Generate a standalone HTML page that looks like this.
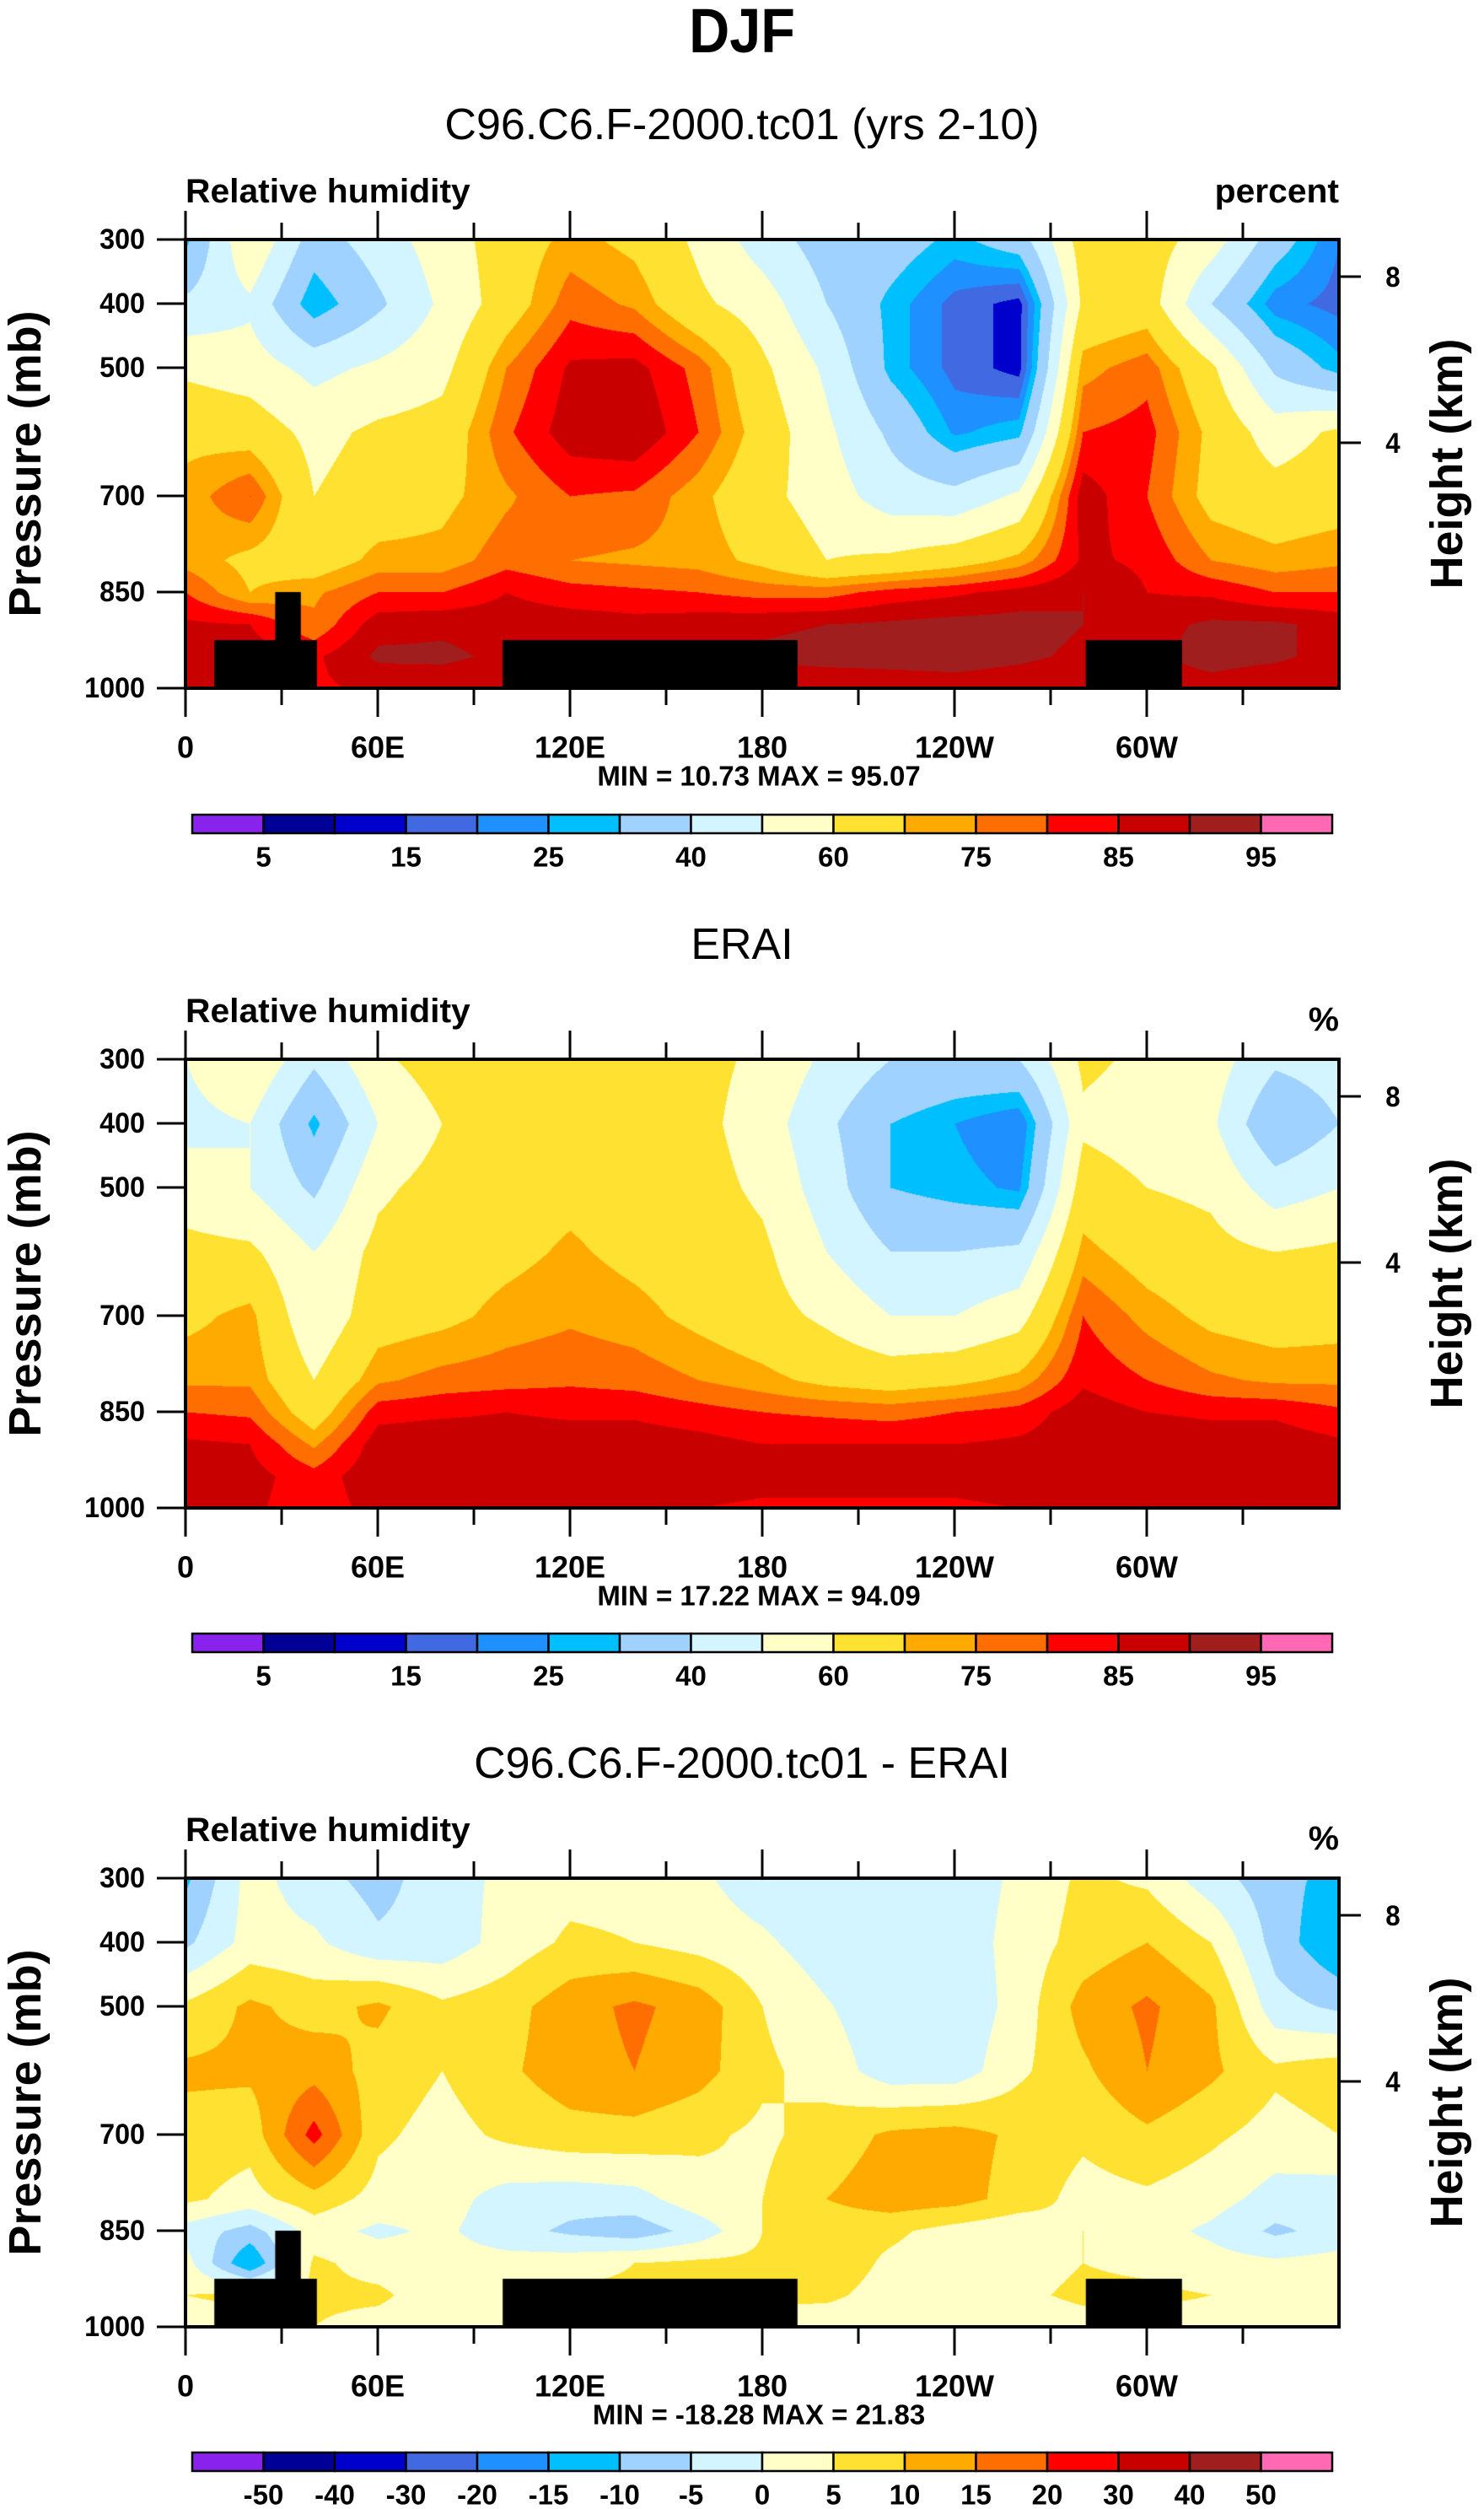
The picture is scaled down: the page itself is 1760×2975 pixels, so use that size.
<!DOCTYPE html>
<html><head><meta charset="utf-8">
<style>
html,body{margin:0;padding:0;background:#fff;}
#root{position:relative;width:1760px;height:2975px;overflow:hidden;background:#fff;}
canvas{position:absolute;}
svg{position:absolute;left:0;top:0;}
text{font-family:"Liberation Sans",sans-serif;fill:#000;}
</style></head>
<body>
<div id="root">
<canvas id="c0"></canvas>
<canvas id="c1"></canvas>
<canvas id="c2"></canvas>
<svg id="svg" width="1760" height="2975"></svg>
</div>
<script>
// ---------- data ----------
const lons = [0,20,40,60,80,100,120,140,160,180,200,220,240,260,280,300,320,340,360];
const levels = [300,400,500,600,700,800,850,900,950,1000];
const pTicks = [300,400,500,700,850,1000];
const lonTickLabels = ["0","60E","120E","180","120W","60W"];
const lonTickValues = [0,60,120,180,240,300];
const hTicks = [8,4];
const rhBounds = [5,10,15,20,25,30,40,50,60,70,75,80,85,90,95];
const rhLabels = ["5","15","25","40","60","75","85","95"];
const diffBounds = [-50,-40,-30,-20,-15,-10,-5,0,5,10,15,20,30,40,50];
const diffLabels = ["-50","-40","-30","-20","-15","-10","-5","0","5","10","15","20","30","40","50"];
const colors16 = ["#8a22ee","#000096","#0000cd","#4169e1","#1e90ff","#00bfff","#a0d2ff","#d2f5ff","#ffffc8","#ffe132","#ffaa00","#ff6e00","#ff0000","#c80000","#a01e1e","#ff69b4"];

const modelRH = [
[28,60,35,45,55,65,72,68,58,45,35,35,28,35,65,65,55,35,20],
[42,48,25,38,52,65,78,74,62,55,40,28,18,13,62,65,40,22,18],
[58,55,47,52,57,75,86,87,78,62,48,28,18,13,73,78,62,38,27],
[68,66,57,62,64,79,88,90,80,66,52,38,24,28,80,82,68,55,62],
[72,80,60,65,68,74,80,79,72,63,55,45,43,52,88,80,67,64,66],
[73,68,65,72,72,78,75,74,73,68,60,62,66,72,86,84,75,72,74],
[80,70,74,80,80,85,82,81,80,78,78,82,84,87,90,85,84,80,80],
[86,85,76,88,89,88,88,87,88,89,90,91,92,92,90,88,91,91,88],
[87,88,84,91,91,89,90,90,90,91,92,92,92,91,89,89,92,91,88],
[85,87,84,86,87,86,87,87,87,86,86,87,88,87,86,87,88,86,85]];
const eraiRH = [
[50,60,42,58,65,66,68,65,63,58,48,40,38,40,62,58,55,42,45],
[47,50,28,50,60,65,67,66,63,55,42,30,25,20,58,55,52,30,40],
[55,50,38,58,64,67,68,66,64,58,45,30,27,24,65,60,58,45,50],
[63,62,50,63,66,68,71,68,66,62,50,40,40,42,72,66,63,60,62],
[68,72,52,66,68,72,74,72,68,64,58,50,50,56,80,73,68,66,67],
[74,74,60,74,77,78,79,78,75,72,68,66,68,72,84,80,76,74,74],
[80,79,65,83,84,85,84,84,82,80,79,78,80,82,88,85,84,84,81],
[86,85,74,88,89,88,88,88,87,85,85,85,85,86,88,89,88,88,86],
[87,87,82,89,89,89,89,88,88,87,87,87,87,88,89,89,89,89,87],
[85,86,82,87,87,86,86,85,85,84,84,84,84,85,86,87,87,87,85]];
const diffRH = [
[-11,2,-3,-7,-2,1,3,3,1,-3,-4,-3,-3,1,6,4,-3,-8,-12],
[-6,2,1,-4,-3,2,6,5,3,1,-3,-2,-3,2,7,10,5,-7,-15],
[6,11,8,11,6,8,13,16,13,5,0.5,-4,-4,2,12,16,11,-3,-6],
[11,11,13,8,5,9,13,15,12,6,3,-3,-3,4,9,15,11,6,8],
[8,7,22,6,3,6,8,8,6,4,7,11,12,9,6,9,6,3,5],
[6,3,8,3,2,-2,-3,-2,3,5,10,13,12,8,3,4,2,-2,-3],
[-2,-7,2,-1,1,-3,-6,-8,-3,5,7,6,3,1,5,2,-1,-6,-3],
[2,-15,6,3,2,2,3,5,6,6,8,4,2,3,5,4,2,1,2],
[5,6,6,6,2,5,6,6,5,6,6,3,3,4,6,6,5,3,5],
[3,3,5,3,2,3,3,3,3,3,2,2,2,2,3,3,3,3,3]];
// topography mask (lon range, top pressure)
const landLon0 = [9,28,99,281];
const landLon1 = [41,36,191,311];
const landTop  = [925,850,925,925];

// ---------- layout ----------
const PX0=220, PX1=1588, PW=PX1-PX0, PH=532;
const panels=[
 {top:284, data:modelRH, bounds:rhBounds, labels:rhLabels, labelIdx:[0,2,4,6,8,10,12,14], title:"C96.C6.F-2000.tc01 (yrs 2-10)", unit:"percent", min:"10.73", max:"95.07", mask:true, cbTop:966},
 {top:1256, data:eraiRH, bounds:rhBounds, labels:rhLabels, labelIdx:[0,2,4,6,8,10,12,14], title:"ERAI", unit:"%", min:"17.22", max:"94.09", mask:false, cbTop:1937},
 {top:2227, data:diffRH, bounds:diffBounds, labels:diffLabels, labelIdx:[0,1,2,3,4,5,6,7,8,9,10,11,12,13,14], title:"C96.C6.F-2000.tc01 - ERAI", unit:"%", min:"-18.28", max:"21.83", mask:true, cbTop:2908}
];
function xOf(lon){return PX0+lon/360*PW;}
function yOf(p,top){return top+(p-300)/700*PH;}

function sample(data,lon,p){
  let i=Math.min(Math.floor(lon/20),lons.length-2); let fx=(lon-lons[i])/20;
  let j=0; while(j<levels.length-2 && p>levels[j+1]) j++;
  let fy=(p-levels[j])/(levels[j+1]-levels[j]);
  const a=data[j][i],b=data[j][i+1],c=data[j+1][i],d=data[j+1][i+1];
  return (a*(1-fx)+b*fx)*(1-fy)+(c*(1-fx)+d*fx)*fy;
}
function hex(h){return [parseInt(h.substr(1,2),16),parseInt(h.substr(3,2),16),parseInt(h.substr(5,2),16)];}
const rgb=colors16.map(hex);

panels.forEach((P,k)=>{
  const cv=document.getElementById('c'+k);
  cv.width=PW; cv.height=PH; cv.style.left=PX0+'px'; cv.style.top=P.top+'px';
  const ctx=cv.getContext('2d'); const im=ctx.createImageData(PW,PH);
  for(let y=0;y<PH;y++){const p=300+y/PH*700;
    for(let x=0;x<PW;x++){const lon=x/PW*360;
      const v=sample(P.data,lon,p); let ci=0; while(ci<P.bounds.length && v>=P.bounds[ci]) ci++;
      const c=rgb[ci]; const o=(y*PW+x)*4; im.data[o]=c[0];im.data[o+1]=c[1];im.data[o+2]=c[2];im.data[o+3]=255;}}
  ctx.putImageData(im,0,0);
  if(P.mask){ctx.fillStyle='#000';
    for(let m=0;m<landLon0.length;m++){
      const x0=landLon0[m]/360*PW, x1=landLon1[m]/360*PW, y0=(landTop[m]-300)/700*PH;
      ctx.fillRect(x0,y0,x1-x0,PH-y0);}}
});

// ---------- svg annotations ----------
const svg=document.getElementById('svg'); const NS="http://www.w3.org/2000/svg";
function T(str,x,y,size,opts){opts=opts||{};
  const t=document.createElementNS(NS,'text'); t.textContent=str;
  t.setAttribute('x',0); t.setAttribute('y',0);
  t.setAttribute('font-size',size); t.setAttribute('font-weight',opts.bold===false?'normal':'bold');
  t.setAttribute('text-anchor',opts.anchor||'middle');
  t.setAttribute('dominant-baseline','central');
  t.setAttribute('transform',`translate(${x},${y}) rotate(${opts.rot||0}) scale(${opts.sx||0.92},1)`);
  svg.appendChild(t); return t;}
function L(x1,y1,x2,y2,w){const l=document.createElementNS(NS,'line');
  l.setAttribute('x1',x1);l.setAttribute('y1',y1);l.setAttribute('x2',x2);l.setAttribute('y2',y2);
  l.setAttribute('stroke','#000');l.setAttribute('stroke-width',w||3);svg.appendChild(l);return l;}

let t=T("DJF",880,36,74,{sx:0.9});
 

panels.forEach((P,k)=>{
  const top=P.top, bot=top+PH;
  let e;
  e=T(P.title,880,top-136,52,{bold:false,sx:1.0});
   
  e=T("Relative humidity",220,top-58,40,{anchor:'start',sx:1.02});
   
  e=T(P.unit,1588,top-(P.unit==='%'?48:58),40,{anchor:'end',sx:1.02});
   
  // frame
  const r=document.createElementNS(NS,'rect');
  r.setAttribute('x',PX0);r.setAttribute('y',top);r.setAttribute('width',PW);r.setAttribute('height',PH);
  r.setAttribute('fill','none');r.setAttribute('stroke','#000');r.setAttribute('stroke-width',4);
   
  svg.appendChild(r);
  // pressure ticks
  pTicks.forEach(p=>{const y=yOf(p,top); L(PX0-34,y,PX0,y);
    e=T(String(p),PX0-48,y,34,{anchor:'end',sx:0.95});
     });
  // lon ticks
  for(let lon=0;lon<=330;lon+=30){const x=xOf(lon); const len=lon%60===0?34:20;
    L(x,bot,x,bot+len); L(x,top,x,top-len);}
  lonTickValues.forEach((lon,i)=>{e=T(lonTickLabels[i],xOf(lon),bot+70,36,{sx:1.0});
     });
  // height axis
  const hY=[top+44,top+241];
  hTicks.forEach((h,i)=>{L(PX1,hY[i],PX1+26,hY[i]);
    e=T(String(h),PX1+64,hY[i],34);
     });
  e=T("Pressure (mb)",30,top+PH/2,54,{rot:-90,sx:1});
   
  e=T("Height (km)",1716,top+PH/2,54,{rot:-90,sx:1});
   
  e=T(`MIN =  ${P.min}   MAX =  ${P.max}`,900,bot+104,33,{sx:1.0});
   
  // colorbar
  const cbX0=228, cbW=1352, bw=cbW/16, cbH=22;
  for(let i=0;i<16;i++){const b=document.createElementNS(NS,'rect');
    b.setAttribute('x',cbX0+i*bw);b.setAttribute('y',P.cbTop);b.setAttribute('width',bw);b.setAttribute('height',cbH);
    b.setAttribute('fill',colors16[i]);b.setAttribute('stroke','#000');b.setAttribute('stroke-width',2.5);
     
    svg.appendChild(b);}
  P.labelIdx.forEach((bi,n)=>{e=T(P.labels[n],cbX0+(bi+1)*bw,P.cbTop+50,33,{sx:1.0});
     });
});
</script>
</body></html>
